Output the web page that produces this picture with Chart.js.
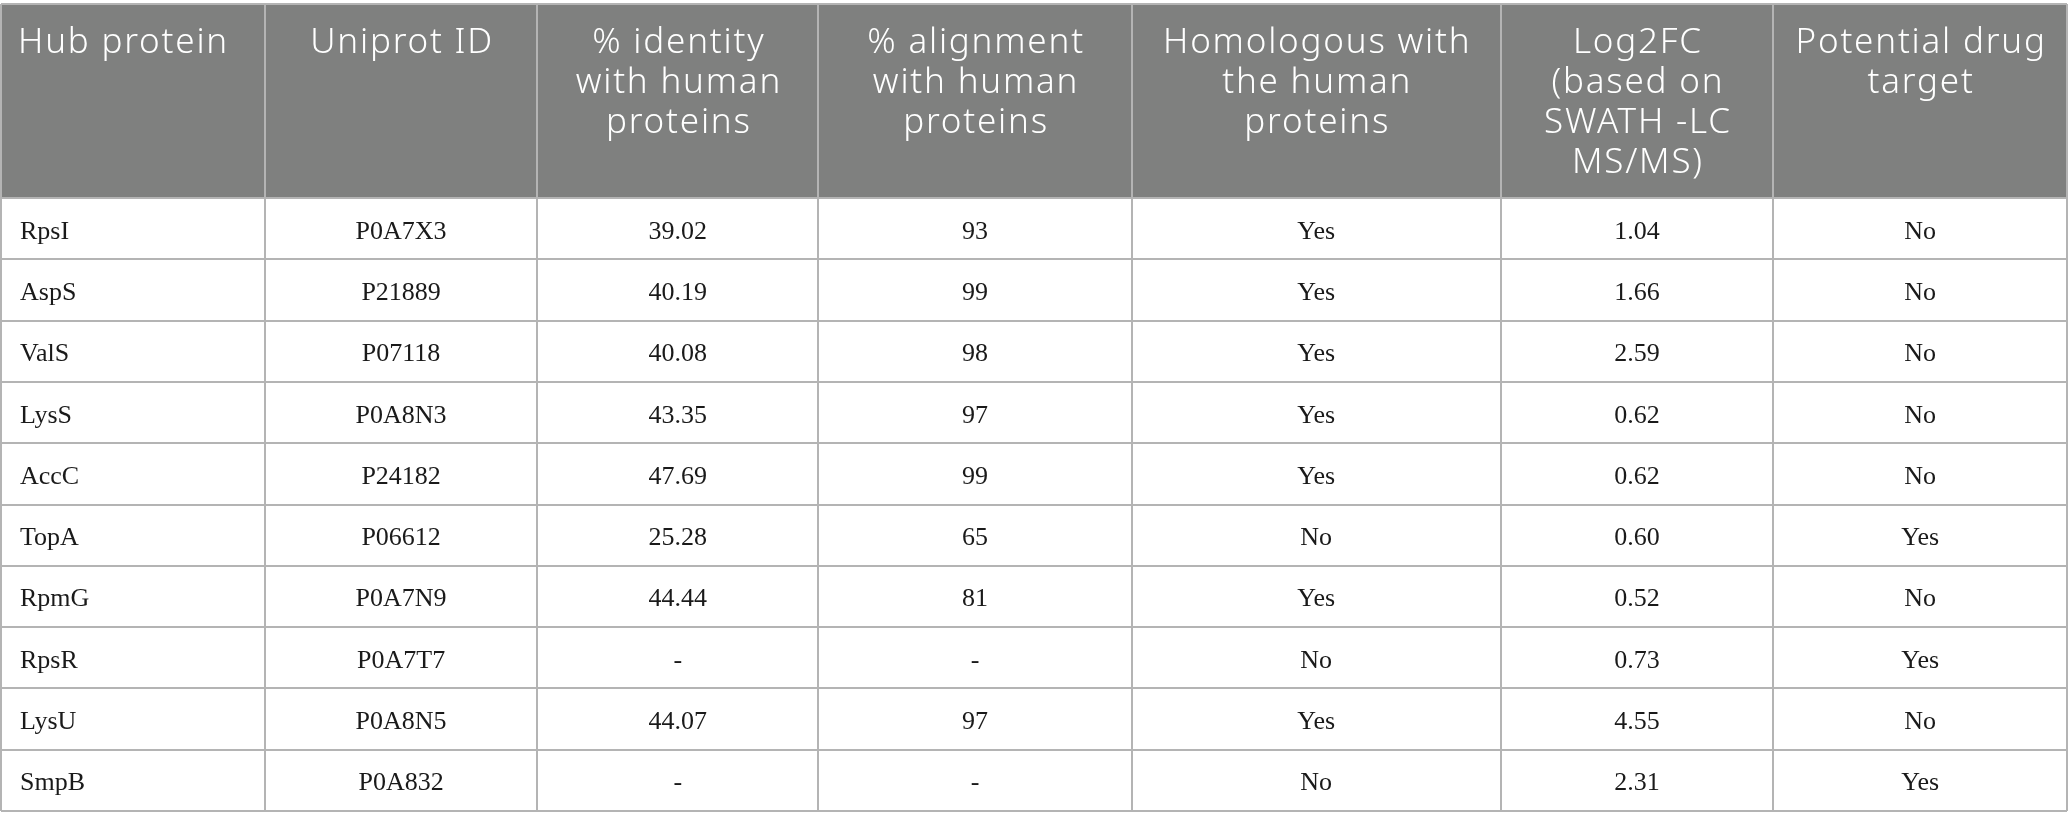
<!DOCTYPE html>
<html>
<head>
<meta charset="utf-8">
<script src="https://cdn.jsdelivr.net/npm/chart.js@4.4.1/dist/chart.umd.min.js"></script>
<style>
  html, body { margin: 0; padding: 0; background: #fff; }
  #wrap { width: 2068px; height: 830px; }
</style>
</head>
<body>
<div id="wrap"><canvas id="tbl" width="2068" height="830"></canvas></div>
<script>
/* globals Chart:false */

// Table content
const headers = [
  ['Hub protein'],
  ['Uniprot ID'],
  ['% identity', 'with human', 'proteins'],
  ['% alignment', 'with human', 'proteins'],
  ['Homologous with', 'the human', 'proteins'],
  ['Log2FC', '(based on', 'SWATH -LC', 'MS/MS)'],
  ['Potential drug', 'target']
]
const proteins = ['RpsI', 'AspS', 'ValS', 'LysS', 'AccC', 'TopA', 'RpmG', 'RpsR', 'LysU', 'SmpB']
const uniprotIds = ['P0A7X3', 'P21889', 'P07118', 'P0A8N3', 'P24182', 'P06612', 'P0A7N9', 'P0A7T7', 'P0A8N5', 'P0A832']
const identity = [39.02, 40.19, 40.08, 43.35, 47.69, 25.28, 44.44, null, 44.07, null]
const alignment = [93, 99, 98, 97, 99, 65, 81, null, 97, null]
const homologous = ['Yes', 'Yes', 'Yes', 'Yes', 'Yes', 'No', 'Yes', 'No', 'Yes', 'No']
const log2fc = [1.04, 1.66, 2.59, 0.62, 0.62, 0.60, 0.52, 0.73, 4.55, 2.31]
const drugTarget = ['No', 'No', 'No', 'No', 'No', 'Yes', 'No', 'Yes', 'No', 'Yes']

// Layout (column widths in px units, header height in row units)
const colWidths = [264, 273, 281, 314, 369, 273, 294]
const headerRows = 3.165

const dash = v => (v === null ? '-' : v)
const columns = [
  proteins,
  uniprotIds,
  identity.map(v => (v === null ? '-' : v.toFixed(2))),
  alignment.map(dash),
  homologous,
  log2fc.map(v => v.toFixed(2)),
  drugTarget
]

const colEdges = [0]
colWidths.forEach(w => colEdges.push(colEdges[colEdges.length - 1] + w))
const totalWidth = colEdges[colEdges.length - 1]
const nRows = proteins.length
const rowEdges = [0, headerRows]
for (let i = 1; i <= nRows; i++) rowEdges.push(headerRows + i)

const datasets = columns.map((col, c) => ({
  label: headers[c].join(' '),
  data: col.map((_, i) => ({ x: (colEdges[c] + colEdges[c + 1]) / 2, y: headerRows + i + 0.5 })),
  pointRadius: 0,
  pointHoverRadius: 0
}))

const tablePlugin = {
  id: 'tablePlugin',
  beforeDraw (chart) {
    const { ctx, scales: { x, y } } = chart
    const left = x.getPixelForValue(0)
    const top = y.getPixelForValue(0)
    ctx.save()
    ctx.fillStyle = '#7f807f'
    ctx.fillRect(left, top, x.getPixelForValue(totalWidth) - left, y.getPixelForValue(headerRows) - top)
    ctx.restore()
  },
  afterDraw (chart) {
    const { ctx, scales: { x, y } } = chart
    ctx.save()
    // header
    ctx.fillStyle = '#ffffff'
    ctx.font = '300 35px "Noto Sans"'
    ctx.letterSpacing = '1.8px'
    ctx.textBaseline = 'alphabetic'
    const top = y.getPixelForValue(0)
    headers.forEach((lines, c) => {
      lines.forEach((t, i) => {
        if (c === 0) {
          ctx.textAlign = 'left'
          ctx.fillText(t, x.getPixelForValue(colEdges[c]) + 17, top + 49 + i * 40)
        } else {
          ctx.textAlign = 'center'
          ctx.fillText(t, x.getPixelForValue((colEdges[c] + colEdges[c + 1]) / 2) + 1, top + 49 + i * 40)
        }
      })
    })
    // body
    ctx.letterSpacing = '0px'
    ctx.fillStyle = '#1a1a1a'
    ctx.font = '26px "Liberation Serif"'
    columns.forEach((col, c) => {
      const meta = chart.getDatasetMeta(c)
      col.forEach((t, i) => {
        const pt = meta.data[i]
        if (c === 0) {
          ctx.textAlign = 'left'
          ctx.fillText(String(t), x.getPixelForValue(colEdges[c]) + 19, pt.y + 10)
        } else {
          ctx.textAlign = 'center'
          ctx.fillText(String(t), pt.x, pt.y + 10)
        }
      })
    })
    ctx.restore()
  }
}

new Chart(document.getElementById('tbl'), {
  type: 'scatter',
  data: { datasets },
  options: {
    responsive: false,
    animation: false,
    events: [],
    layout: { padding: { left: 1, right: 1, top: 4, bottom: 19 } },
    plugins: {
      legend: { display: false },
      tooltip: { enabled: false }
    },
    scales: {
      x: {
        type: 'linear',
        min: 0,
        max: totalWidth,
        afterBuildTicks: scale => { scale.ticks = colEdges.map(v => ({ value: v })) },
        ticks: { display: false },
        border: { display: false },
        grid: { color: '#b4b4b4', lineWidth: 2, drawTicks: false }
      },
      y: {
        type: 'linear',
        reverse: true,
        min: 0,
        max: headerRows + nRows,
        afterBuildTicks: scale => { scale.ticks = rowEdges.map(v => ({ value: v })) },
        ticks: { display: false },
        border: { display: false },
        grid: { color: '#b4b4b4', lineWidth: 2, drawTicks: false }
      }
    }
  },
  plugins: [tablePlugin]
})
</script>
</body>
</html>
